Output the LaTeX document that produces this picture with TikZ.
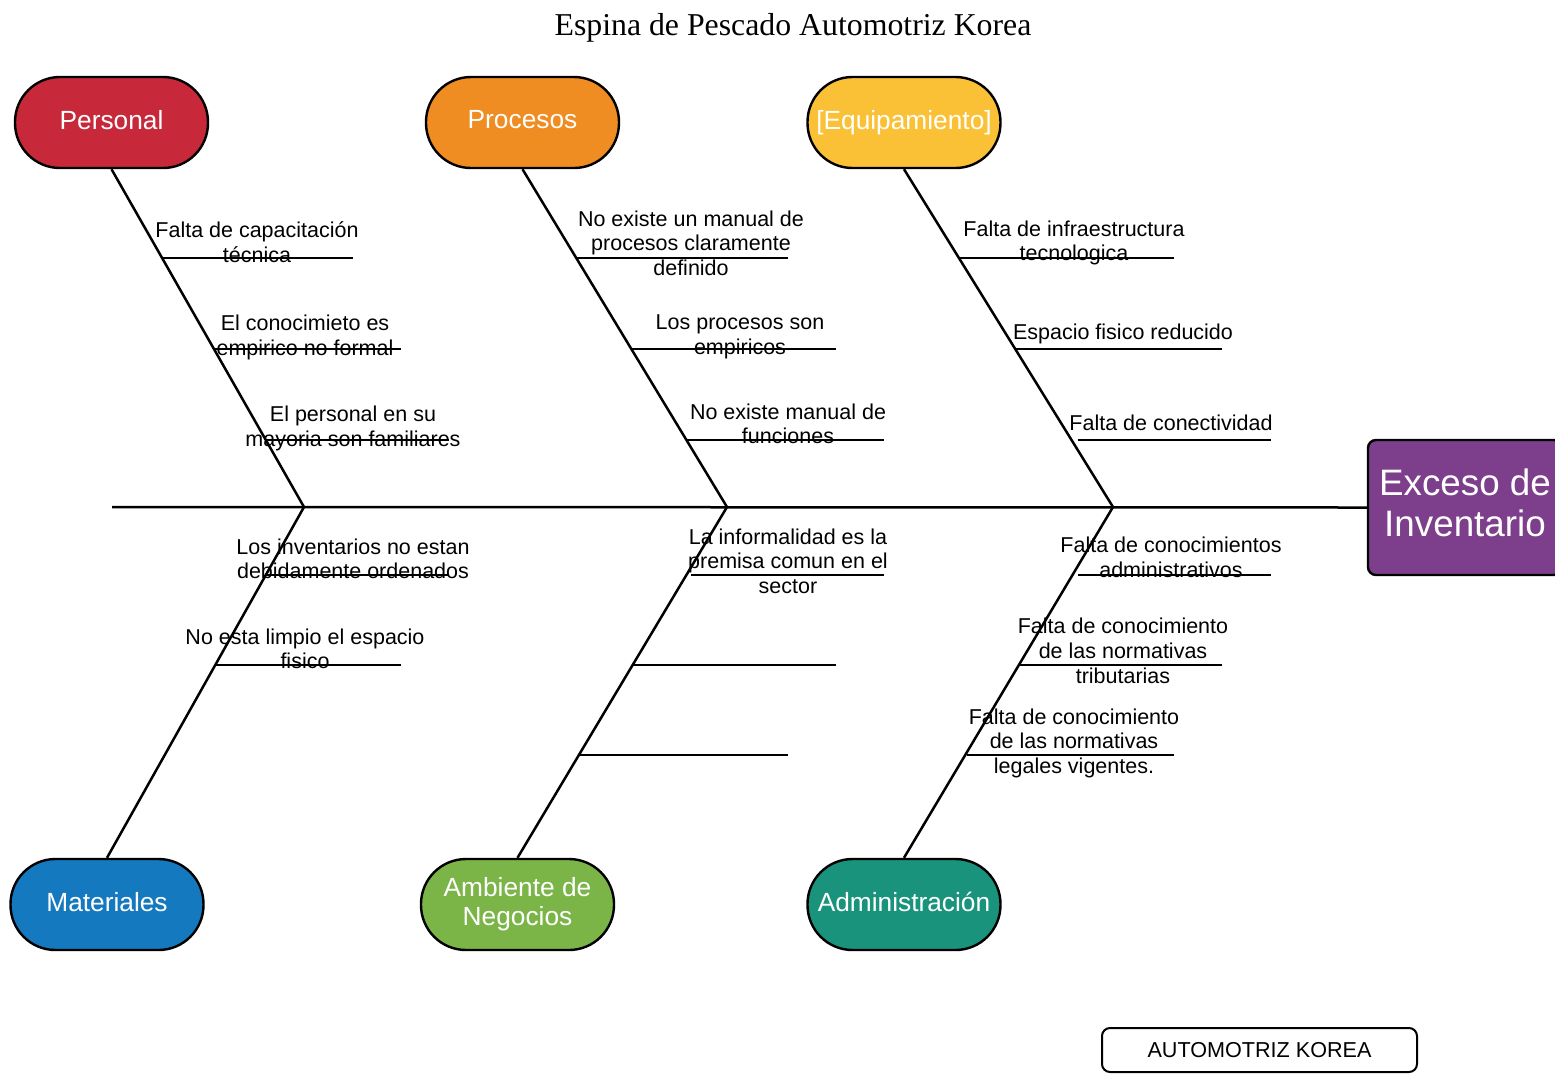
\documentclass[tikz,border=0pt]{standalone}
\usepackage{fontspec}
\setmainfont{Liberation Sans}
\newfontfamily\titlefont{Liberation Serif}
\usetikzlibrary{calc}
\definecolor{cPers}{HTML}{C8293A}
\definecolor{cProc}{HTML}{EF8C22}
\definecolor{cEquip}{HTML}{FAC136}
\definecolor{cMat}{HTML}{1479BE}
\definecolor{cAmb}{HTML}{7BB548}
\definecolor{cAdm}{HTML}{1A937C}
\definecolor{cHead}{HTML}{7D3E8C}
\newcommand{\lowfix}{\rule[-3pt]{0pt}{3pt}}
\begin{document}
\begin{tikzpicture}[x=0.5pt,y=-0.5pt,
  cat/.style={draw=black, line width=1.2pt, rounded corners=22.5pt,
    minimum width=96.5pt, minimum height=45.5pt, inner sep=0pt,
    text=white, font=\fontsize{13.15}{14.5}\selectfont, align=center},
  bone/.style={line width=1.25pt},
  subbone/.style={line width=1pt},
  lbl/.style={align=center, inner sep=0pt, font=\fontsize{10.75}{12.4}\selectfont}]
\useasboundingbox (0,0) rectangle (1555,1073);
\clip (0,0) rectangle (1555,1073);

% title
\node[font=\titlefont\fontsize{15.9}{18}\selectfont, anchor=base] (title) at (793,35) {Espina de Pescado Automotriz Korea};

% category nodes
\node[cat, fill=cPers]  (pers)  at (111.5,122.5) {Personal\lowfix};
\node[cat, fill=cProc]  (proc)  at (522.5,122.5) {Procesos\lowfix};
\node[cat, fill=cEquip] (equip) at (904,122.5)   {[Equipamiento]\lowfix};
\node[cat, fill=cMat]   (mat)   at (107,904.5)   {Materiales\lowfix};
\node[cat, fill=cAmb]   (amb)   at (517.5,904.5) {Ambiente de\\Negocios};
\node[cat, fill=cAdm]   (adm)   at (904,904.5)   {Administración\lowfix};

% head
\node[draw=black, line width=1.2pt, rounded corners=4pt, fill=cHead, text=white,
  minimum width=97pt, minimum height=67.5pt, inner sep=0pt, align=center,
  font=\fontsize{18.4}{20.5}\selectfont] (head) at (1465,507.5)
  {Exceso de\\Inventario\rule[-5pt]{0pt}{5pt}};

% footer box
\node[draw=black, line width=1pt, rounded corners=4pt, minimum width=157.5pt,
  minimum height=22pt, inner sep=0pt, font=\fontsize{10.8}{12}\selectfont] (foot) at (1259.5,1050)
  {AUTOMOTRIZ KOREA};

% spine
\coordinate (tail) at (112,507);
\coordinate (j1) at (304,507);
\coordinate (j2) at (727,507);
\coordinate (j3) at (1113,507);
\draw[bone] (tail) -- (head.west);

% bones
\draw[bone] (pers.south) -- (j1);
\draw[bone] (proc.south) -- (j2);
\draw[bone] (equip.south) -- (j3);
\draw[bone] (j1) -- (mat.north);
\draw[bone] (j2) -- (amb.north);
\draw[bone] (j3) -- (adm.north);

% sub-bones: Personal
\coordinate (p1a) at (163,258);   \coordinate (p1b) at (353,258);
\coordinate (p2a) at (214.5,349); \coordinate (p2b) at (401,349);
\coordinate (p3a) at (266,440);   \coordinate (p3b) at (449,440);
\draw[subbone] (p1a) -- (p1b);
\draw[subbone] (p2a) -- (p2b);
\draw[subbone] (p3a) -- (p3b);
% Procesos
\coordinate (r1a) at (577,258);   \coordinate (r1b) at (788,258);
\coordinate (r2a) at (632,349);   \coordinate (r2b) at (836,349);
\coordinate (r3a) at (687,440);   \coordinate (r3b) at (884,440);
\draw[subbone] (r1a) -- (r1b);
\draw[subbone] (r2a) -- (r2b);
\draw[subbone] (r3a) -- (r3b);
% Equipamiento
\coordinate (e1a) at (960,258);   \coordinate (e1b) at (1174,258);
\coordinate (e2a) at (1016,349);  \coordinate (e2b) at (1222,349);
\coordinate (e3a) at (1078,440);  \coordinate (e3b) at (1271,440);
\draw[subbone] (e1a) -- (e1b);
\draw[subbone] (e2a) -- (e2b);
\draw[subbone] (e3a) -- (e3b);
% Materiales
\coordinate (m1a) at (266,575);   \coordinate (m1b) at (449,575);
\coordinate (m2a) at (215.5,665); \coordinate (m2b) at (401,665);
\draw[subbone] (m1a) -- (m1b);
\draw[subbone] (m2a) -- (m2b);
% Ambiente
\coordinate (a1a) at (691,575);   \coordinate (a1b) at (884,575);
\coordinate (a2a) at (633,665);   \coordinate (a2b) at (836,665);
\coordinate (a3a) at (580,755);   \coordinate (a3b) at (788,755);
\draw[subbone] (a1a) -- (a1b);
\draw[subbone] (a2a) -- (a2b);
\draw[subbone] (a3a) -- (a3b);
% Administracion
\coordinate (d1a) at (1078,575);  \coordinate (d1b) at (1271,575);
\coordinate (d2a) at (1019.5,665);\coordinate (d2b) at (1222,665);
\coordinate (d3a) at (966.5,755); \coordinate (d3b) at (1174,755);
\draw[subbone] (d1a) -- (d1b);
\draw[subbone] (d2a) -- (d2b);
\draw[subbone] (d3a) -- (d3b);

% labels
\node[lbl] (lp1) at (257,245)   {\strut Falta de capacitación\\técnica\strut};
\node[lbl] (lp2) at (305,338)   {\strut El conocimieto es\\empirico no formal\strut};
\node[lbl] (lp3) at (353,429)   {\strut El personal en su\\mayoria son familiares\strut};
\node[lbl] (lr1) at (691,246)   {\strut No existe un manual de\\procesos claramente\\definido\strut};
\node[lbl] (lr2) at (740,337)   {\strut Los procesos son\\empiricos\strut};
\node[lbl] (lr3) at (788,426.5) {\strut No existe manual de\\funciones\strut};
\node[lbl] (le1) at (1074,243.5){\strut Falta de infraestructura\\tecnologica\strut};
\node[lbl] (le2) at (1123,334.5){\strut Espacio fisico reducido\strut};
\node[lbl] (le3) at (1171,425.5){\strut Falta de conectividad\strut};
\node[lbl] (lm1) at (353,561.5) {\strut Los inventarios no estan\\debidamente ordenados\strut};
\node[lbl] (lm2) at (305,651.5) {\strut No esta limpio el espacio\\fisico\strut};
\node[lbl] (la1) at (788,564)   {\strut La informalidad es la\\premisa comun en el\\sector\strut};
\node[lbl] (ld1) at (1171,560)  {\strut Falta de conocimientos\\administrativos\strut};
\node[lbl] (ld2) at (1123,653.5){\strut Falta de conocimiento\\de las normativas\\tributarias\strut};
\node[lbl] (ld3) at (1074,744)  {\strut Falta de conocimiento\\de las normativas\\legales vigentes.\strut};
\end{tikzpicture}
\end{document}
